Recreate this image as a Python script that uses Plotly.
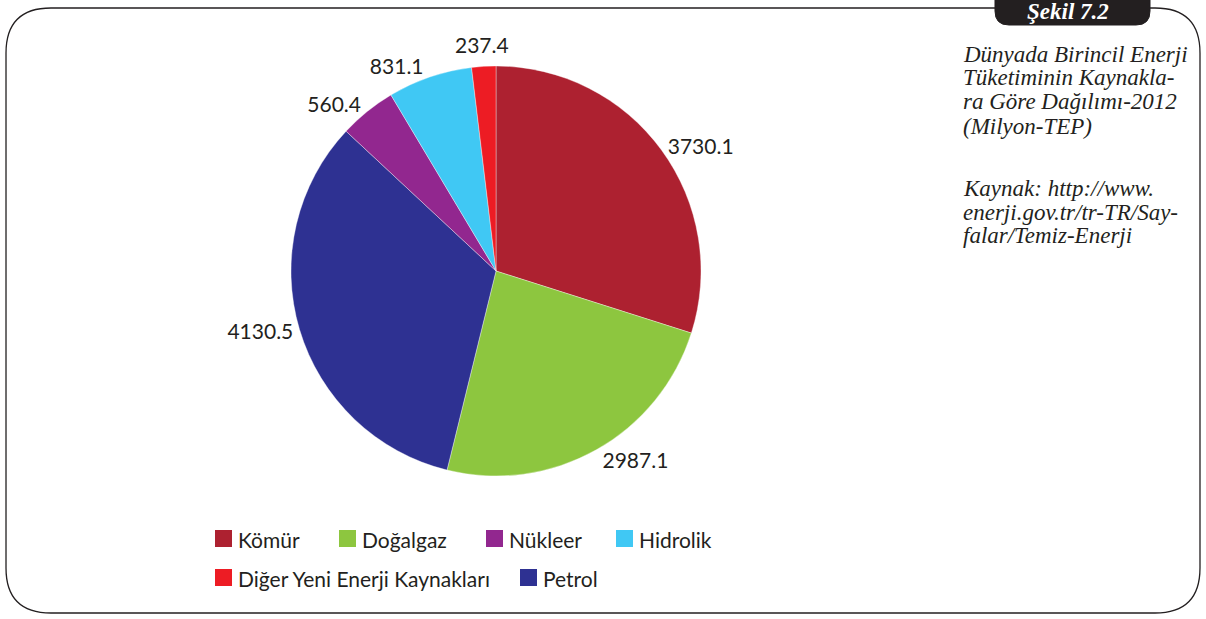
import math
import plotly.graph_objects as go

W, H = 1206, 619

# Data
labels = ["Kömür", "Doğalgaz", "Petrol", "Nükleer", "Hidrolik", "Diğer Yeni Enerji Kaynakları"]
values = [3730.1, 2987.1, 4130.5, 560.4, 831.1, 237.4]
colors = ["#AD2130", "#8DC63F", "#2E3192", "#92278F", "#40C8F4", "#ED1C24"]

legend_order = ["Kömür", "Doğalgaz", "Nükleer", "Hidrolik", "Diğer Yeni Enerji Kaynakları", "Petrol"]

side_lines = ["Dünyada Birincil Enerji", "Tüketiminin Kaynakla-", "ra Göre Dağılımı-2012",
              "(Milyon-TEP)", "Kaynak: http://www.", "enerji.gov.tr/tr-TR/Say-",
              "falar/Temiz-Enerji"]
tab_text = "Şekil 7.2"


def px(x):
    return x / W


def py(y):
    return 1 - y / H


# pie box in page pixels
cx, cy, r = 496, 271, 205

# plotly outside text for all slices except the smallest one, which is labelled
# with an annotation placed along its mid angle (avoids a leader line)
tpos = ["outside"] * (len(values) - 1) + ["none"]

fig = go.Figure()
fig.add_trace(go.Pie(
    labels=labels, values=values, sort=False, direction="clockwise", rotation=0,
    marker=dict(colors=colors, line=dict(color="rgba(255,255,255,0.6)", width=0.6)),
    textinfo="value", texttemplate="%{value:.1f}", textposition=tpos,
    textfont=dict(family="Lato", size=21, color="#231F20"),
    domain=dict(x=[px(cx - r), px(cx + r)], y=[py(cy + r), py(cy - r)]),
    showlegend=False, hoverinfo="label+value",
))

shapes = []
annotations = []

total = sum(values)
cum = sum(values[:-1])
mid = (cum + values[-1] / 2) / total * 2 * math.pi
rl = r + 22
annotations.append(dict(x=px(cx + rl * math.sin(mid)), y=py(cy - rl * math.cos(mid)),
                        xref="paper", yref="paper", text=f"{values[-1]:.1f}", showarrow=False,
                        xanchor="center", yanchor="middle",
                        font=dict(family="Lato", size=21, color="#231F20")))


def P(x, y):
    return f"{px(x):.5f},{py(y):.5f}"


# Frame
L, R, T, B, rad = 6, 1200, 8, 613, 45
frame = (f"M {P(995, T)} L {P(L + rad, T)} Q {P(L, T)} {P(L, T + rad)} "
         f"L {P(L, B - rad)} Q {P(L, B)} {P(L + rad, B)} "
         f"L {P(R - rad, B)} Q {P(R, B)} {P(R, B - rad)} "
         f"L {P(R, T + rad)} Q {P(R, T)} {P(R - rad, T)} L {P(1150, T)}")
shapes.append(dict(type="path", xref="paper", yref="paper", path=frame,
                   line=dict(color="#231F20", width=1.3)))

# Tab
tr = 14
tab = (f"M {P(995, -2)} L {P(995, 25 - tr)} Q {P(995, 25)} {P(995 + tr, 25)} "
       f"L {P(1150 - tr, 25)} Q {P(1150, 25)} {P(1150, 25 - tr)} L {P(1150, -2)} Z")
shapes.append(dict(type="path", xref="paper", yref="paper", path=tab,
                   fillcolor="#231F20", line=dict(color="#231F20", width=1)))
annotations.append(dict(x=px(1068), y=py(11), xref="paper", yref="paper",
                        text=f"<b><i>{tab_text}</i></b>", showarrow=False,
                        xanchor="center", yanchor="middle",
                        font=dict(family="Liberation Serif", size=23, color="white")))

# Side text
ys = [54, 78, 102, 126, 188, 212, 236]
for t, y in zip(side_lines, ys):
    annotations.append(dict(x=px(961), y=py(y), xref="paper", yref="paper",
                            text=f"<i>{t}</i>", showarrow=False,
                            xanchor="left", yanchor="middle",
                            font=dict(family="Liberation Serif", size=23, color="#231F20")))

# Legend (custom)
leg_pos = [(215, 530), (339, 530), (486, 530), (616, 530), (215, 569), (520, 569)]
cmap = dict(zip(labels, colors))
for name, (x, y) in zip(legend_order, leg_pos):
    shapes.append(dict(type="rect", xref="paper", yref="paper",
                       x0=px(x), x1=px(x + 17), y0=py(y + 17), y1=py(y),
                       fillcolor=cmap[name], line=dict(width=0)))
    annotations.append(dict(x=px(x + 21), y=py(y + 9), xref="paper", yref="paper",
                            text=name, showarrow=False, xanchor="left", yanchor="middle",
                            font=dict(family="Lato", size=21, color="#231F20")))

fig.update_layout(width=W, height=H, margin=dict(l=0, r=0, t=0, b=0),
                  paper_bgcolor="white", plot_bgcolor="white",
                  shapes=shapes, annotations=annotations, showlegend=False)

fig.write_html("out.html", config={"displayModeBar": False},
               post_script="document.body.style.margin='0';")
